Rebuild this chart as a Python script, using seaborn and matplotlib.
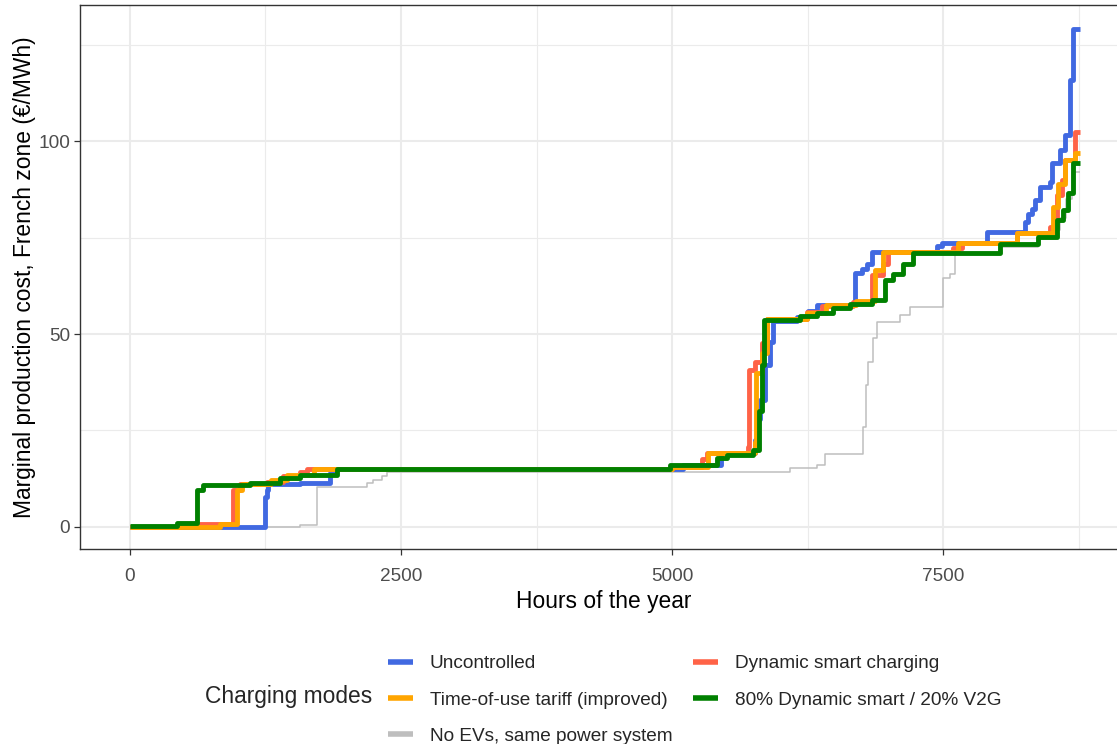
import numpy as np
import pandas as pd
import matplotlib
matplotlib.use("Agg")
import matplotlib.pyplot as plt
import seaborn as sns
from matplotlib.lines import Line2D
from matplotlib.ticker import FixedLocator

HOURS_IN_YEAR = 8760

# Sorted (duration-curve) marginal costs, stored as step breakpoints:
# each hour value starts a new level that holds until the next breakpoint.
uncontrolled_hours = [0, 1245, 1262, 1276, 1568, 1845, 1900, 5100, 5450, 5770, 5790, 5810,
                      5860, 5900, 5935, 6150, 6250, 6335, 6688, 6750, 6796, 6842, 7442, 7488,
                      7903, 8256, 8284, 8318, 8349, 8395, 8487, 8503, 8580, 8626, 8672, 8702]
uncontrolled_cost = [0.0, 7.8, 9.6, 11.0, 11.4, 14.0, 15.0, 16.0, 19.0, 22.5, 28.0, 33.0,
                     42.0, 48.0, 53.5, 54.5, 56.0, 57.5, 65.8, 67.0, 68.2, 71.2, 72.8, 73.7,
                     76.6, 79.0, 81.2, 82.5, 84.8, 88.2, 89.5, 94.3, 97.8, 101.7, 116.0, 129.3]

tou_hours = [0, 830, 990, 1030, 1300, 1450, 1700, 5000, 5330, 5765, 5775, 5830, 5873,
             6242, 6420, 6700, 6873, 6949, 7641, 8179, 8518, 8564, 8626, 8718]
tou_cost = [0.0, 0.6, 9.5, 11.0, 12.0, 13.5, 15.0, 15.6, 19.0, 22.0, 40.0, 45.0, 53.8,
            55.5, 57.5, 58.6, 66.5, 71.2, 73.5, 76.1, 83.0, 89.0, 95.3, 97.0]

dynamic_hours = [0, 461, 953, 1015, 1261, 1414, 1568, 1630, 5000, 5273, 5320, 5700, 5710,
                 5765, 5827, 5873, 6242, 6380, 6673, 6842, 6949, 6995, 7595, 7672, 8179,
                 8487, 8549, 8595, 8626, 8718]
dynamic_cost = [0.0, 0.6, 9.5, 11.0, 11.6, 13.2, 14.2, 15.0, 15.6, 17.5, 19.2, 20.8, 40.7,
                42.8, 47.7, 53.8, 55.8, 57.3, 58.4, 65.3, 68.3, 71.4, 72.3, 73.5, 76.1,
                77.9, 86.0, 90.0, 95.3, 102.5]

v2g_hours = [0, 431, 615, 675, 1107, 1384, 1568, 1906, 4981, 5411, 5504, 5750, 5800, 5830,
             5850, 6181, 6335, 6488, 6642, 6842, 6965, 7042, 7134, 7226, 8026, 8376, 8549,
             8609, 8655, 8701]
v2g_cost = [0.3, 1.0, 9.5, 10.8, 11.4, 12.7, 13.5, 15.0, 16.0, 17.8, 18.6, 19.9, 30.0, 42.0,
            53.6, 54.6, 55.5, 56.7, 57.8, 58.8, 64.0, 65.7, 68.3, 71.0, 73.4, 75.3, 79.6,
            82.2, 86.5, 94.3]

no_ev_hours = [0, 1568, 1722, 2183, 2245, 2322, 2368, 6089, 6335, 6411, 6765, 6790, 6811,
               6857, 6888, 7103, 7195, 7503, 7565, 7611, 8026, 8376, 8530, 8580, 8630, 8690]
no_ev_cost = [0.0, 0.5, 10.4, 11.3, 12.2, 13.1, 14.1, 15.2, 15.9, 18.9, 26.0, 36.8, 42.8,
              48.9, 53.2, 55.0, 56.9, 64.5, 65.7, 71.0, 72.5, 74.7, 77.0, 80.0, 85.0, 92.0]

mode_labels = ["Uncontrolled", "Time-of-use tariff (improved)", "No EVs, same power system",
               "Dynamic smart charging", "80% Dynamic smart / 20% V2G"]
mode_colors = {
    "Uncontrolled": "#4169E1",
    "Time-of-use tariff (improved)": "#FFA500",
    "No EVs, same power system": "#BEBEBE",
    "Dynamic smart charging": "#FF6347",
    "80% Dynamic smart / 20% V2G": "#008000",
}
mode_data = {
    "Uncontrolled": (uncontrolled_hours, uncontrolled_cost),
    "Time-of-use tariff (improved)": (tou_hours, tou_cost),
    "No EVs, same power system": (no_ev_hours, no_ev_cost),
    "Dynamic smart charging": (dynamic_hours, dynamic_cost),
    "80% Dynamic smart / 20% V2G": (v2g_hours, v2g_cost),
}
draw_order = ["No EVs, same power system", "Uncontrolled", "Dynamic smart charging",
              "Time-of-use tariff (improved)", "80% Dynamic smart / 20% V2G"]

sns.set_theme(style="white")
plt.rcParams["font.family"] = ["Liberation Sans", "DejaVu Sans"]

fig = plt.figure(figsize=(11.17, 7.44), dpi=100)
W, H = 1117, 744
ax = fig.add_axes([80 / W, (H - 549) / H, (1127 - 80) / W, (549 - 5) / H])

for mode in draw_order:
    hours, cost = mode_data[mode]
    df = pd.DataFrame({"hour": list(hours) + [HOURS_IN_YEAR],
                       "cost": list(cost) + [cost[-1]]})
    thin = mode == "No EVs, same power system"
    sns.lineplot(data=df, x="hour", y="cost", ax=ax, color=mode_colors[mode],
                 linewidth=1.1 if thin else 3.5, drawstyle="steps-post",
                 estimator=None, sort=False, legend=False,
                 solid_capstyle="butt", zorder=3)

ax.set_xlim(-461, 9197)
ax.set_ylim(-5.79, 135.4)

ax.xaxis.set_major_locator(FixedLocator([0, 2500, 5000, 7500]))
ax.xaxis.set_minor_locator(FixedLocator([1250, 3750, 6250, 8750]))
ax.yaxis.set_major_locator(FixedLocator([0, 50, 100]))
ax.yaxis.set_minor_locator(FixedLocator([25, 75, 125]))
ax.set_xticklabels(["0", "2500", "5000", "7500"])
ax.set_yticklabels(["0", "50", "100"])

ax.grid(which="major", color="#EBEBEB", linewidth=1.5, zorder=0)
ax.grid(which="minor", color="#EBEBEB", linewidth=0.8, zorder=0)
ax.set_axisbelow(True)

for sp in ax.spines.values():
    sp.set_color("#333333")
    sp.set_linewidth(1.0)

ax.tick_params(which="major", direction="out", length=4.0, width=0.9, color="#333333",
               labelsize=13.7, labelcolor="#4D4D4D", bottom=True, left=True)
ax.tick_params(axis="x", which="major", pad=10)
ax.tick_params(axis="y", which="major", pad=3)
ax.tick_params(which="minor", length=0, bottom=False, left=False)

ax.set_xlabel("Hours of the year", fontsize=16.4, color="black", labelpad=3)
ax.set_ylabel("Marginal production cost, French zone (\u20ac/MWh)", fontsize=16.4,
              color="black", labelpad=1.5)

handles = [Line2D([0], [0], color=mode_colors[m], linewidth=4.0, solid_capstyle="butt")
           for m in mode_labels]
fig.legend(handles, mode_labels, ncol=2, loc="upper left",
           bbox_to_anchor=(388 / W, 1 - 655 / H), frameon=False, fontsize=13.7,
           handlelength=1.3, handletextpad=0.9, columnspacing=1.1, labelspacing=1.0,
           borderpad=0, borderaxespad=0)
fig.text(205 / W, 1 - 697 / H, "Charging modes", fontsize=16.4, va="center", ha="left")

fig.savefig("out.png", dpi=100, facecolor="white")
